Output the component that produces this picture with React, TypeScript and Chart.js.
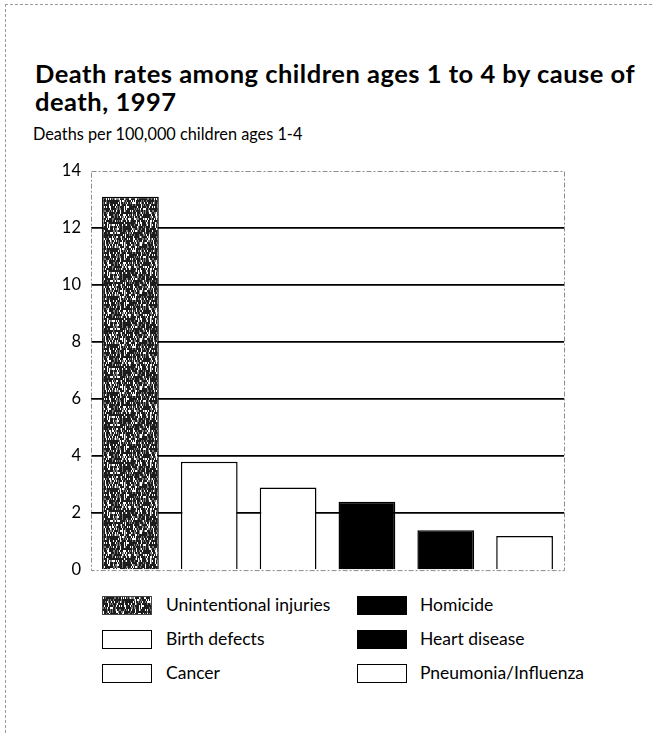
import React, { useEffect, useMemo, useRef } from "react";
import { Chart, registerables } from "chart.js";

Chart.register(...registerables);

const titleLines = ["Death rates among children ages 1 to 4 by cause of", "death, 1997"];
const yAxisTitle = "Deaths per 100,000 children ages 1-4";
const categories = [
  "Unintentional injuries",
  "Birth defects",
  "Cancer",
  "Homicide",
  "Heart disease",
  "Pneumonia/Influenza",
];
const deathRates = [13.1, 3.8, 2.9, 2.4, 1.4, 1.2];
const fillKinds = ["pattern", "white", "white", "black", "black", "white"];
const yMin = 0;
const yMax = 14;
const yStep = 2;
const legendColumns = [
  [0, 1, 2],
  [3, 4, 5],
];

const FONT = "Lato, 'Open Sans', sans-serif";

function makeNoiseCanvas(): HTMLCanvasElement {
  const c = document.createElement("canvas");
  c.width = 48;
  c.height = 48;
  const ctx = c.getContext("2d")!;
  ctx.fillStyle = "#1c1c1c";
  ctx.fillRect(0, 0, 48, 48);
  for (let y = 0; y < 48; y++) {
    for (let x = 0; x < 48; x++) {
      let h = (Math.imul(x, 374761393) + Math.imul(y >> 1, 668265263)) >>> 0;
      h = Math.imul(h ^ (h >>> 13), 1274126177) >>> 0;
      h = (h ^ (h >>> 16)) >>> 0;
      const v = h % 100;
      if (v < 18) {
        ctx.fillStyle = "#ffffff";
        ctx.fillRect(x, y, 1, 1);
      } else if (v < 34) {
        ctx.fillStyle = "#7a7a7a";
        ctx.fillRect(x, y, 1, 1);
      }
    }
  }
  return c;
}

const framePlugin = {
  id: "dashedFrame",
  beforeDatasetsDraw(chart: any) {
    const { ctx, chartArea } = chart;
    ctx.save();
    ctx.strokeStyle = "#8c8c8c";
    ctx.lineWidth = 1;
    ctx.setLineDash([5, 2, 2, 2]);
    ctx.strokeRect(
      chartArea.left + 0.5,
      chartArea.top + 0.5,
      chartArea.right - chartArea.left,
      chartArea.bottom - chartArea.top
    );
    ctx.restore();
  },
};

export default function App() {
  const canvasRef = useRef<HTMLCanvasElement | null>(null);
  const noise = useMemo(() => makeNoiseCanvas(), []);
  const noiseUrl = useMemo(() => noise.toDataURL(), [noise]);

  useEffect(() => {
    if (!canvasRef.current) return;
    const ctx2d = canvasRef.current.getContext("2d")!;
    const pattern = ctx2d.createPattern(noise, "repeat")!;
    const colors = fillKinds.map((k) => (k === "pattern" ? pattern : k === "black" ? "#000000" : "#ffffff"));
    const chart = new Chart(canvasRef.current, {
      type: "bar",
      data: {
        labels: categories,
        datasets: [
          {
            data: deathRates,
            backgroundColor: colors as any,
            borderColor: "#000000",
            borderWidth: 1.5,
            barPercentage: 0.72,
            categoryPercentage: 1,
          },
        ],
      },
      options: {
        animation: false,
        responsive: false,
        layout: { padding: { top: 21, right: 16, bottom: 18, left: 0 } },
        plugins: {
          legend: { display: false },
          tooltip: { enabled: false },
          title: { display: false },
        },
        scales: {
          x: {
            display: false,
            grid: { display: false },
          },
          y: {
            min: yMin,
            max: yMax,
            afterFit: (scale: any) => {
              scale.width = 51;
            },
            ticks: {
              stepSize: yStep,
              color: "#000",
              padding: 10,
              font: { family: FONT, size: 16.5 },
            },
            grid: {
              drawTicks: false,
              color: (c: any) =>
                c.tick && (c.tick.value === yMin || c.tick.value === yMax) ? "rgba(0,0,0,0)" : "#000000",
              lineWidth: 1.7,
            },
            border: { display: false },
          },
        },
      },
      plugins: [framePlugin],
    });
    return () => chart.destroy();
  }, [noise]);

  const swatch = (i: number) => {
    const k = fillKinds[i];
    const style: React.CSSProperties = {
      position: "absolute",
      left: 0,
      top: 0,
      width: 50,
      height: 19,
      boxSizing: "border-box",
      border: "1px solid #000",
      background: k === "black" ? "#000" : "#fff",
    };
    if (k === "pattern") {
      style.backgroundImage = `url(${noiseUrl})`;
      style.border = "1px solid #444";
    }
    return <div style={style} />;
  };

  return (
    <div
      style={{
        position: "absolute",
        left: 0,
        top: 0,
        width: 652,
        height: 733,
        background: "#fff",
        fontFamily: FONT,
        color: "#000",
        overflow: "hidden",
      }}
    >
      <div
        style={{
          position: "absolute",
          left: 5,
          top: 4,
          right: 0,
          bottom: 0,
          borderTop: "1px dashed #9a9a9a",
          borderLeft: "1px dashed #9a9a9a",
        }}
      />
      <div
        style={{
          position: "absolute",
          left: 35,
          top: 59,
          fontWeight: 700,
          fontSize: 25.5,
          letterSpacing: 0.5,
          lineHeight: "28px",
          whiteSpace: "nowrap",
        }}
      >
        {titleLines.map((t, i) => (
          <div key={i}>{t}</div>
        ))}
      </div>
      <div style={{ position: "absolute", left: 33, top: 124, fontSize: 16.3, whiteSpace: "nowrap" }}>
        {yAxisTitle}
      </div>
      <canvas
        ref={canvasRef}
        width={540}
        height={440}
        style={{ position: "absolute", left: 40, top: 150, width: 540, height: 440 }}
      />
      {legendColumns.map((col, ci) =>
        col.map((idx, ri) => (
          <div
            key={idx}
            style={{
              position: "absolute",
              left: ci === 0 ? 102 : 357,
              top: 596 + ri * 34,
              height: 19,
              width: 280,
            }}
          >
            {swatch(idx)}
            <div
              style={{
                position: "absolute",
                left: ci === 0 ? 64 : 63,
                top: -2,
                fontSize: 17.5,
                lineHeight: "22px",
                whiteSpace: "nowrap",
              }}
            >
              {categories[idx]}
            </div>
          </div>
        ))
      )}
    </div>
  );
}
